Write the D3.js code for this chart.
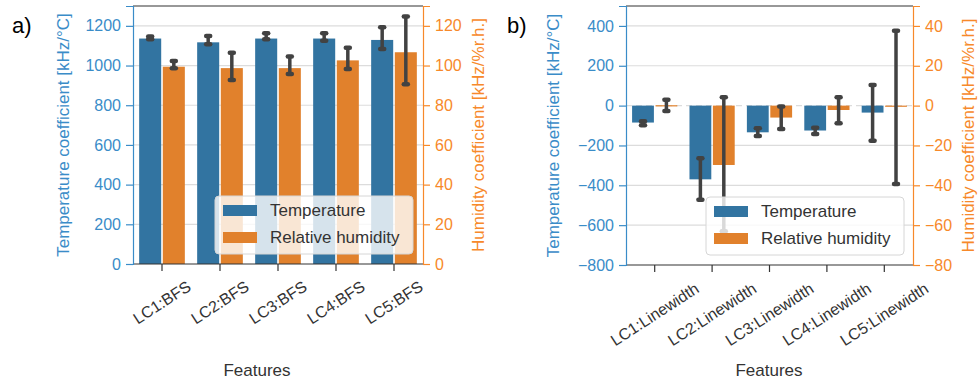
<!DOCTYPE html>
<html>
<head>
<meta charset="utf-8">
<script src="https://cdn.jsdelivr.net/npm/d3@7"></script>
<style>
  body { margin: 0; background: #fff; }
  svg { display: block; font-family: "Liberation Sans", Arial, sans-serif; }
</style>
</head>
<body>
<svg id="chart" width="979" height="381"></svg>
<script>
// ---- data ----
var bfsFeatures = ["LC1:BFS", "LC2:BFS", "LC3:BFS", "LC4:BFS", "LC5:BFS"];
var bfsTemp     = [1136, 1117, 1136, 1136, 1129];
var bfsTempLo   = [1133, 1107, 1133, 1125, 1083];
var bfsTempHi   = [1146, 1149, 1163, 1163, 1193];
var bfsHum      = [99.4, 98.7, 98.7, 102.6, 106.7];
var bfsHumLo    = [98.6, 92.7, 95.7, 98.2, 90.6];
var bfsHumHi    = [102.3, 106.5, 104.5, 109, 124.7];

var lwFeatures = ["LC1:Linewidth", "LC2:Linewidth", "LC3:Linewidth", "LC4:Linewidth", "LC5:Linewidth"];
var lwTemp     = [-85, -370, -134, -125, -35];
var lwTempLo   = [-98, -473, -152, -143, -176];
var lwTempHi   = [-78, -264, -113, -111, 104];
var lwHum      = [0.2, -29.8, -6.0, -2.2, -0.3];
var lwHumLo    = [-2.7, -63, -11.8, -8.8, -39.3];
var lwHumHi    = [2.9, 4.2, -0.5, 4.2, 37.6];

var tempTicksA = [0, 200, 400, 600, 800, 1000, 1200];
var humTicksA  = [0, 20, 40, 60, 80, 100, 120];
var tempTicksB = [-800, -600, -400, -200, 0, 200, 400];
var humTicksB  = [-80, -60, -40, -20, 0, 20, 40];

var seriesNames = ["Temperature", "Relative humidity"];

// ---- styling ----
var blueBar = "#3274a1", orangeBar = "#e1812c";
var blueTxt = "#3a8cc8", orangeTxt = "#f7892a";
var errCol = "#424242", gridCol = "#dcdcdc", spineCol = "#333";

var svg = d3.select("#chart");

function drawPanel(p)
{
    var g = svg.append("g");
    var x = d3.scaleBand().domain(p.features).range([p.left, p.right]);
    var yL = d3.scaleLinear().domain(p.tempDomain).range([p.bottom, p.top]);
    var yR = d3.scaleLinear().domain(p.humDomain).range([p.bottom, p.top]);
    var bw = x.bandwidth() * 0.38;

    // grid
    g.selectAll(".grid").data(p.tempTicks.filter(function(t) { return t !== p.tempDomain[0]; }))
      .enter().append("line")
        .attr("x1", p.left).attr("x2", p.right)
        .attr("y1", function(d) { return yL(d); }).attr("y2", function(d) { return yL(d); })
        .attr("stroke", gridCol).attr("stroke-width", 1.2)
        .attr("stroke-dasharray", function(d) { return (d === 0 && p.zeroDash) ? "6,4" : null; });

    // bars
    function bars(vals, scale, dx, col) {
        g.append("g").selectAll("rect").data(vals).enter().append("rect")
          .attr("x", function(d, i) { return x(p.features[i]) + x.bandwidth() / 2 + dx; })
          .attr("width", bw)
          .attr("y", function(d) { return Math.min(scale(d), scale(0)); })
          .attr("height", function(d) { return Math.max(1.2, Math.abs(scale(d) - scale(0))); })
          .attr("fill", col);
    }
    bars(p.temp, yL, -bw - 0.8, blueBar);
    bars(p.hum, yR, 0.8, orangeBar);

    // error bars
    function errs(lo, hi, scale, dx) {
        var eg = g.append("g").attr("stroke", errCol).attr("stroke-linecap", "round");
        lo.forEach(function(l, i) {
            var cx = x(p.features[i]) + x.bandwidth() / 2 + dx;
            eg.append("line").attr("x1", cx).attr("x2", cx)
              .attr("y1", scale(l)).attr("y2", scale(hi[i])).attr("stroke-width", 3.5);
            [l, hi[i]].forEach(function(v) {
                eg.append("line").attr("x1", cx - 2).attr("x2", cx + 2)
                  .attr("y1", scale(v)).attr("y2", scale(v)).attr("stroke-width", 4.5);
            });
        });
    }
    errs(p.tempLo, p.tempHi, yL, -bw / 2 - 0.8);
    errs(p.humLo, p.humHi, yR, bw / 2 + 0.8);

    // spines
    g.append("line").attr("x1", p.left).attr("x2", p.right).attr("y1", p.top).attr("y2", p.top)
      .attr("stroke", spineCol).attr("stroke-width", 1.2);
    g.append("line").attr("x1", p.left).attr("x2", p.right).attr("y1", p.bottom).attr("y2", p.bottom)
      .attr("stroke", spineCol).attr("stroke-width", 1.2);

    // left axis
    var axL = g.append("g").attr("transform", "translate(" + p.left + ",0)")
      .call(d3.axisLeft(yL).tickValues(p.tempTicks).tickSize(7).tickPadding(5).tickFormat(d3.format("d")));
    axL.select(".domain").attr("stroke", blueTxt).attr("stroke-width", 1.2);
    axL.selectAll(".tick line").attr("stroke", blueTxt).attr("stroke-width", 1.2);
    axL.selectAll("text").attr("fill", blueTxt).style("font-size", "16px")
      .text(function(d) { return d < 0 ? "\u2212" + Math.abs(d) : d; });

    // right axis
    var axR = g.append("g").attr("transform", "translate(" + p.right + ",0)")
      .call(d3.axisRight(yR).tickValues(p.humTicks).tickSize(7).tickPadding(5).tickFormat(d3.format("d")));
    axR.select(".domain").attr("stroke", orangeTxt).attr("stroke-width", 1.2);
    axR.selectAll(".tick line").attr("stroke", orangeTxt).attr("stroke-width", 1.2);
    axR.selectAll("text").attr("fill", orangeTxt).style("font-size", "16px")
      .text(function(d) { return d < 0 ? "\u2212" + Math.abs(d) : d; });

    // bottom axis with rotated labels
    var axB = g.append("g").attr("transform", "translate(0," + p.bottom + ")")
      .call(d3.axisBottom(x).tickSize(7).tickFormat(""));
    axB.select(".domain").remove();
    axB.selectAll(".tick line").attr("stroke", spineCol).attr("stroke-width", 1.2);
    var deg = 33, ang = deg * Math.PI / 180;
    p.features.forEach(function(f) {
        var t = g.append("text").attr("text-anchor", "middle").attr("dominant-baseline", "central")
          .style("font-size", "16px").attr("fill", "#333").text(f);
        var w = t.node().getComputedTextLength();
        var h = 16;
        var bh = w * Math.sin(ang) + h * Math.cos(ang);
        var cx = x(f) + x.bandwidth() / 2, cy = p.bottom + p.labelPad + bh / 2;
        t.attr("transform", "translate(" + cx + "," + cy + ") rotate(" + (-deg) + ")");
    });

    // axis titles
    g.append("text").attr("transform", "translate(" + p.yLabelX + "," + (p.top + p.bottom) / 2 + ") rotate(-90)")
      .attr("text-anchor", "middle").attr("dominant-baseline", "central")
      .style("font-size", "17px").attr("fill", blueTxt).text("Temperature coefficient [kHz/\u00b0C]");
    g.append("text").attr("transform", "translate(" + p.y2LabelX + "," + (p.top + p.bottom) / 2 + ") rotate(-90)")
      .attr("text-anchor", "middle").attr("dominant-baseline", "central")
      .style("font-size", "17px").attr("fill", orangeTxt).text("Humidity coefficient [kHz/%r.h.]");
    g.append("text").attr("x", p.featX).attr("y", 376).attr("text-anchor", "middle")
      .style("font-size", "17px").attr("fill", "#333").text("Features");

    // panel letter
    g.append("text").attr("x", p.letterX).attr("y", 33).style("font-size", "22px")
      .attr("fill", "#000").text(p.letter);

    // legend
    var lg = g.append("g").attr("transform", "translate(" + p.legX + "," + p.legY + ")");
    lg.append("rect").attr("width", 198).attr("height", 58).attr("rx", 4)
      .attr("fill", "#fff").attr("fill-opacity", 0.8).attr("stroke", "#d6d6d6");
    seriesNames.forEach(function(s, i) {
        lg.append("rect").attr("x", 8).attr("y", 9 + i * 27).attr("width", 34).attr("height", 11)
          .attr("fill", i === 0 ? blueBar : orangeBar);
        lg.append("text").attr("x", 55).attr("y", 20 + i * 27).style("font-size", "17px")
          .attr("fill", "#333").text(s);
    });
}

drawPanel({
    features: bfsFeatures, temp: bfsTemp, tempLo: bfsTempLo, tempHi: bfsTempHi,
    hum: bfsHum, humLo: bfsHumLo, humHi: bfsHumHi,
    tempDomain: [0, 1300], humDomain: [0, 130], tempTicks: tempTicksA, humTicks: humTicksA,
    left: 133, right: 423, top: 6, bottom: 264, labelPad: 14,
    yLabelX: 63, y2LabelX: 478, featX: 257, letter: "a)", letterX: 12,
    legX: 215, legY: 196, zeroDash: false
});

drawPanel({
    features: lwFeatures, temp: lwTemp, tempLo: lwTempLo, tempHi: lwTempHi,
    hum: lwHum, humLo: lwHumLo, humHi: lwHumHi,
    tempDomain: [-800, 500], humDomain: [-80, 50], tempTicks: tempTicksB, humTicks: humTicksB,
    left: 626, right: 913, top: 6, bottom: 265, labelPad: 15,
    yLabelX: 553, y2LabelX: 968, featX: 769, letter: "b)", letterX: 507,
    legX: 706, legY: 197, zeroDash: true
});
</script>
</body>
</html>
